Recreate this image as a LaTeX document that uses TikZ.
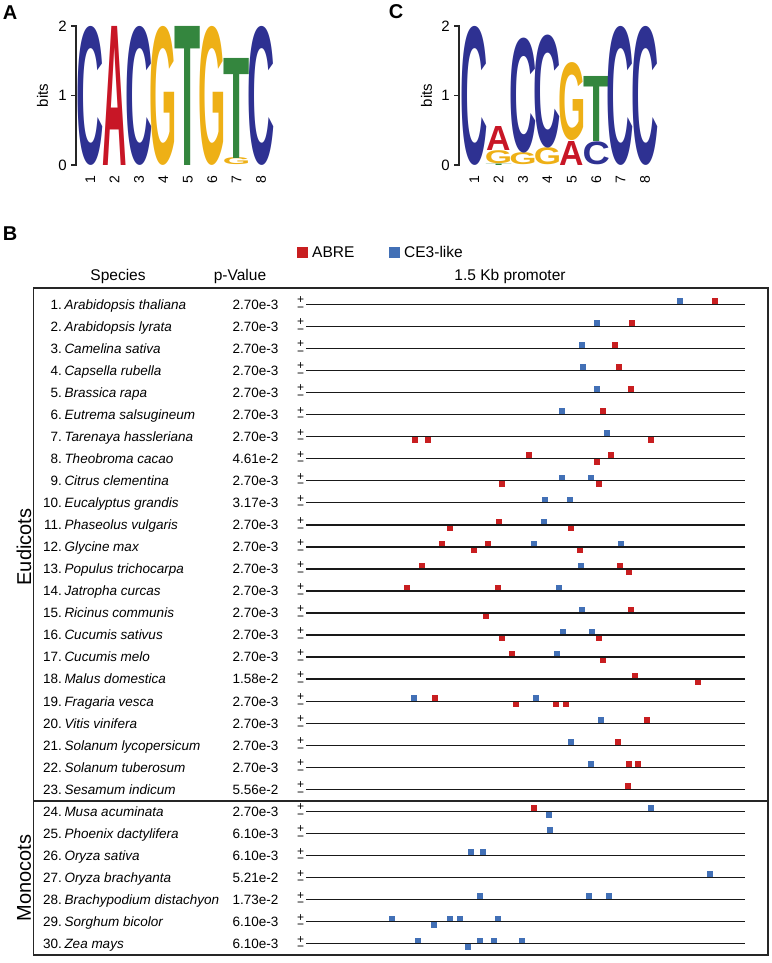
\documentclass[tikz,border=0pt]{standalone}
\usepackage{fontspec}
\setmainfont{Liberation Sans}
\usepackage{graphicx}
\begin{document}
\begin{tikzpicture}[x=1pt,y=-1pt,
  letter/.style={anchor=south, inner sep=0pt, outer sep=0pt, font=\bfseries},
  colnum/.style={rotate=90, anchor=east, inner sep=0pt, font=\fontsize{14}{16}\selectfont},
  tick/.style={anchor=east, inner sep=0pt, font=\fontsize{15}{17}\selectfont},
  axis/.style={line width=1.2pt, black!85},
  panel/.style={inner sep=0pt, font=\fontsize{20}{22}\selectfont\bfseries},
  head/.style={anchor=base, inner sep=0pt, font=\fontsize{15.5}{18}\selectfont},
  spc/.style={anchor=base west, inner sep=0pt, yshift=-4.8pt, font=\fontsize{13.5}{16}\selectfont},
  pval/.style={anchor=base west, inner sep=0pt, yshift=-4.8pt, font=\fontsize{13.5}{16}\selectfont},
  sgn/.style={inner sep=0pt, font=\fontsize{12}{12}\selectfont},
  dna/.style={line width=1.4pt, black!90},
  site/.style={minimum size=5.5pt, inner sep=0pt, outer sep=0pt},
  fwd/.style={site, anchor=south, yshift=0.7pt},
  rev/.style={site, anchor=north, yshift=-0.7pt},
  key/.style={minimum size=11pt, inner sep=0pt}
]
\definecolor{Lc}{RGB}{46,49,146}
\definecolor{La}{RGB}{200,22,38}
\definecolor{Lg}{RGB}{238,176,22}
\definecolor{Lt}{RGB}{52,134,62}
\definecolor{Cabre}{RGB}{200,30,32}
\definecolor{Cce}{RGB}{66,112,182}
\def\rowy{282.25}
\def\dy{22.05}
\def\lx{306}
\def\rx{745}
\def\sx{40.7}
\def\px{232.5}
\def\nr#1{\makebox[21pt][r]{#1}\hspace{2.6pt}}
\useasboundingbox (0,0) rectangle (771,963);
%% PANEL A
\node[panel] (labA) at (10,13) {A};
\draw[axis] (71,26) -- (76,26) -- (76,165) -- (71,165);
\draw[axis] (71,95.5) -- (76,95.5);
\node[tick] (a2) at (67,26) {2};
\node[tick] (a1) at (67,95.5) {1};
\node[tick] (a0) at (67,165) {0};
\node[rotate=90, font=\fontsize{15}{17}\selectfont] (abits) at (42.5,95.5) {bits};
\node[letter,text=Lc] (A1)  at ( 90.2,165) {\resizebox*{27.3pt}{139pt}{C}};
\node[letter,text=La] (A2)  at (114.6,165) {\resizebox*{24.4pt}{139pt}{A}};
\node[letter,text=Lc] (A3)  at (139.0,165) {\resizebox*{27.3pt}{139pt}{C}};
\node[letter,text=Lg] (A4)  at (163.4,165) {\resizebox*{27.3pt}{139pt}{G}};
\node[letter,text=Lt] (A5)  at (187.8,165) {\resizebox*{26.2pt}{139pt}{T}};
\node[letter,text=Lg] (A6)  at (212.2,165) {\resizebox*{27.3pt}{139pt}{G}};
\node[letter,text=Lg] (A7g) at (236.6,165) {\resizebox*{27.3pt}{7pt}{G}};
\node[letter,text=Lt] (A7)  at (236.6,158) {\resizebox*{26.2pt}{100pt}{T}};
\node[letter,text=Lc] (A8)  at (261.0,165) {\resizebox*{27.3pt}{139pt}{C}};
\node[colnum] (na1) at ( 90.2,176) {1};
\node[colnum] (na2) at (114.6,176) {2};
\node[colnum] (na3) at (139.0,176) {3};
\node[colnum] (na4) at (163.4,176) {4};
\node[colnum] (na5) at (187.8,176) {5};
\node[colnum] (na6) at (212.2,176) {6};
\node[colnum] (na7) at (236.6,176) {7};
\node[colnum] (na8) at (261.0,176) {8};
%% PANEL C
\node[panel] (labC) at (396,12) {C};
\draw[axis] (454,26) -- (459,26) -- (459,165) -- (454,165);
\draw[axis] (454,95.5) -- (459,95.5);
\node[tick] (c2) at (450,26) {2};
\node[tick] (c1) at (450,95.5) {1};
\node[tick] (c0) at (450,165) {0};
\node[rotate=90, font=\fontsize{15}{17}\selectfont] (cbits) at (426.5,95.5) {bits};
\node[letter,text=Lc] (C1)  at (474.2,165)   {\resizebox*{27.3pt}{139pt}{C}};
\node[letter,text=Lt] (C2t) at (498.6,165)   {\resizebox*{26.2pt}{1.5pt}{T}};
\node[letter,text=Lg] (C2g) at (498.6,163.5) {\resizebox*{27.3pt}{13pt}{G}};
\node[letter,text=La] (C2)  at (498.6,150)   {\resizebox*{24.4pt}{24pt}{A}};
\node[letter,text=Lg] (C3g) at (523.0,165)   {\resizebox*{27.3pt}{12pt}{G}};
\node[letter,text=Lc] (C3)  at (523.0,153)   {\resizebox*{27.3pt}{115pt}{C}};
\node[letter,text=Lg] (C4g) at (547.4,165)   {\resizebox*{27.3pt}{17pt}{G}};
\node[letter,text=Lc] (C4)  at (547.4,148)   {\resizebox*{27.3pt}{113pt}{C}};
\node[letter,text=La] (C5a) at (571.8,165)   {\resizebox*{24.4pt}{24pt}{A}};
\node[letter,text=Lg] (C5)  at (571.8,141)   {\resizebox*{27.3pt}{78pt}{G}};
\node[letter,text=Lc] (C6c) at (596.2,165)   {\resizebox*{27.3pt}{23pt}{C}};
\node[letter,text=Lt] (C6)  at (596.2,142)   {\resizebox*{26.2pt}{65pt}{T}};
\node[letter,text=Lc] (C7)  at (620.6,165)   {\resizebox*{27.3pt}{139pt}{C}};
\node[letter,text=Lc] (C8)  at (645.0,165)   {\resizebox*{27.3pt}{139pt}{C}};
\node[colnum] (nc1) at (474.2,176) {1};
\node[colnum] (nc2) at (498.6,176) {2};
\node[colnum] (nc3) at (523.0,176) {3};
\node[colnum] (nc4) at (547.4,176) {4};
\node[colnum] (nc5) at (571.8,176) {5};
\node[colnum] (nc6) at (596.2,176) {6};
\node[colnum] (nc7) at (620.6,176) {7};
\node[colnum] (nc8) at (645.0,176) {8};
%% PANEL B: LEGEND AND HEADER
\node[panel] (labB) at (10,234) {B};
\node[key,fill=Cabre] (kABRE) at (302,252) {};
\node[anchor=west, inner sep=0pt, font=\fontsize{15.5}{18}\selectfont] (tABRE) at (312,252) {ABRE};
\node[key,fill=Cce] (kCE) at (394,252) {};
\node[anchor=west, inner sep=0pt, font=\fontsize{15.5}{18}\selectfont] (tCE) at (404,252) {CE3-like};
\node[head] (hS) at (118,280) {Species};
\node[head] (hP) at (240,280) {p-Value};
\node[head] (hK) at (510,280) {1.5 Kb promoter};
%% FRAME
\draw[line width=1.5pt, black!85] (33.3,288) rectangle (768,955);
\draw[line width=1.5pt, black!85] (33.3,801) -- (768,801);
\node[rotate=90, inner sep=0pt, font=\fontsize{20}{22}\selectfont] (gEu) at (24,547) {Eudicots};
\node[rotate=90, inner sep=0pt, font=\fontsize{20}{22}\selectfont] (gMo) at (24,878) {Monocots};
%% PROMOTER LINES
\foreach \n in {1,...,30}{
  \draw[dna] (\lx,\rowy+\n*\dy) -- (\rx,\rowy+\n*\dy);
  \node[sgn] (pl\n) at (300.5,\rowy+\n*\dy-4) {+};
  \node[sgn] (mi\n) at (300.5,\rowy+\n*\dy+5) {−};
}
%% SPECIES
\node[spc] (S1)  at (\sx,\rowy+1*\dy)  {\nr{1.}\textit{Arabidopsis thaliana}};
\node[spc] (S2)  at (\sx,\rowy+2*\dy)  {\nr{2.}\textit{Arabidopsis lyrata}};
\node[spc] (S3)  at (\sx,\rowy+3*\dy)  {\nr{3.}\textit{Camelina sativa}};
\node[spc] (S4)  at (\sx,\rowy+4*\dy)  {\nr{4.}\textit{Capsella rubella}};
\node[spc] (S5)  at (\sx,\rowy+5*\dy)  {\nr{5.}\textit{Brassica rapa}};
\node[spc] (S6)  at (\sx,\rowy+6*\dy)  {\nr{6.}\textit{Eutrema salsugineum}};
\node[spc] (S7)  at (\sx,\rowy+7*\dy)  {\nr{7.}\textit{Tarenaya hassleriana}};
\node[spc] (S8)  at (\sx,\rowy+8*\dy)  {\nr{8.}\textit{Theobroma cacao}};
\node[spc] (S9)  at (\sx,\rowy+9*\dy)  {\nr{9.}\textit{Citrus clementina}};
\node[spc] (S10) at (\sx,\rowy+10*\dy) {\nr{10.}\textit{Eucalyptus grandis}};
\node[spc] (S11) at (\sx,\rowy+11*\dy) {\nr{11.}\textit{Phaseolus vulgaris}};
\node[spc] (S12) at (\sx,\rowy+12*\dy) {\nr{12.}\textit{Glycine max}};
\node[spc] (S13) at (\sx,\rowy+13*\dy) {\nr{13.}\textit{Populus trichocarpa}};
\node[spc] (S14) at (\sx,\rowy+14*\dy) {\nr{14.}\textit{Jatropha curcas}};
\node[spc] (S15) at (\sx,\rowy+15*\dy) {\nr{15.}\textit{Ricinus communis}};
\node[spc] (S16) at (\sx,\rowy+16*\dy) {\nr{16.}\textit{Cucumis sativus}};
\node[spc] (S17) at (\sx,\rowy+17*\dy) {\nr{17.}\textit{Cucumis melo}};
\node[spc] (S18) at (\sx,\rowy+18*\dy) {\nr{18.}\textit{Malus domestica}};
\node[spc] (S19) at (\sx,\rowy+19*\dy) {\nr{19.}\textit{Fragaria vesca}};
\node[spc] (S20) at (\sx,\rowy+20*\dy) {\nr{20.}\textit{Vitis vinifera}};
\node[spc] (S21) at (\sx,\rowy+21*\dy) {\nr{21.}\textit{Solanum lycopersicum}};
\node[spc] (S22) at (\sx,\rowy+22*\dy) {\nr{22.}\textit{Solanum tuberosum}};
\node[spc] (S23) at (\sx,\rowy+23*\dy) {\nr{23.}\textit{Sesamum indicum}};
\node[spc] (S24) at (\sx,\rowy+24*\dy) {\nr{24.}\textit{Musa acuminata}};
\node[spc] (S25) at (\sx,\rowy+25*\dy) {\nr{25.}\textit{Phoenix dactylifera}};
\node[spc] (S26) at (\sx,\rowy+26*\dy) {\nr{26.}\textit{Oryza sativa}};
\node[spc] (S27) at (\sx,\rowy+27*\dy) {\nr{27.}\textit{Oryza brachyanta}};
\node[spc] (S28) at (\sx,\rowy+28*\dy) {\nr{28.}\textit{Brachypodium distachyon}};
\node[spc] (S29) at (\sx,\rowy+29*\dy) {\nr{29.}\textit{Sorghum bicolor}};
\node[spc] (S30) at (\sx,\rowy+30*\dy) {\nr{30.}\textit{Zea mays}};
%% P-VALUES
\node[pval] (P1)  at (\px,\rowy+1*\dy)  {2.70e-3};
\node[pval] (P2)  at (\px,\rowy+2*\dy)  {2.70e-3};
\node[pval] (P3)  at (\px,\rowy+3*\dy)  {2.70e-3};
\node[pval] (P4)  at (\px,\rowy+4*\dy)  {2.70e-3};
\node[pval] (P5)  at (\px,\rowy+5*\dy)  {2.70e-3};
\node[pval] (P6)  at (\px,\rowy+6*\dy)  {2.70e-3};
\node[pval] (P7)  at (\px,\rowy+7*\dy)  {2.70e-3};
\node[pval] (P8)  at (\px,\rowy+8*\dy)  {4.61e-2};
\node[pval] (P9)  at (\px,\rowy+9*\dy)  {2.70e-3};
\node[pval] (P10) at (\px,\rowy+10*\dy) {3.17e-3};
\node[pval] (P11) at (\px,\rowy+11*\dy) {2.70e-3};
\node[pval] (P12) at (\px,\rowy+12*\dy) {2.70e-3};
\node[pval] (P13) at (\px,\rowy+13*\dy) {2.70e-3};
\node[pval] (P14) at (\px,\rowy+14*\dy) {2.70e-3};
\node[pval] (P15) at (\px,\rowy+15*\dy) {2.70e-3};
\node[pval] (P16) at (\px,\rowy+16*\dy) {2.70e-3};
\node[pval] (P17) at (\px,\rowy+17*\dy) {2.70e-3};
\node[pval] (P18) at (\px,\rowy+18*\dy) {1.58e-2};
\node[pval] (P19) at (\px,\rowy+19*\dy) {2.70e-3};
\node[pval] (P20) at (\px,\rowy+20*\dy) {2.70e-3};
\node[pval] (P21) at (\px,\rowy+21*\dy) {2.70e-3};
\node[pval] (P22) at (\px,\rowy+22*\dy) {2.70e-3};
\node[pval] (P23) at (\px,\rowy+23*\dy) {5.56e-2};
\node[pval] (P24) at (\px,\rowy+24*\dy) {2.70e-3};
\node[pval] (P25) at (\px,\rowy+25*\dy) {6.10e-3};
\node[pval] (P26) at (\px,\rowy+26*\dy) {6.10e-3};
\node[pval] (P27) at (\px,\rowy+27*\dy) {5.21e-2};
\node[pval] (P28) at (\px,\rowy+28*\dy) {1.73e-2};
\node[pval] (P29) at (\px,\rowy+29*\dy) {6.10e-3};
\node[pval] (P30) at (\px,\rowy+30*\dy) {6.10e-3};
%% SITES (r = ABRE, b = CE3-like)
\node[fwd,fill=Cce]   (b1-1)  at (680,\rowy+1*\dy) {};
\node[fwd,fill=Cabre] (r1-1)  at (715,\rowy+1*\dy) {};
\node[fwd,fill=Cce]   (b2-1)  at (597,\rowy+2*\dy) {};
\node[fwd,fill=Cabre] (r2-1)  at (632,\rowy+2*\dy) {};
\node[fwd,fill=Cce]   (b3-1)  at (582,\rowy+3*\dy) {};
\node[fwd,fill=Cabre] (r3-1)  at (615,\rowy+3*\dy) {};
\node[fwd,fill=Cce]   (b4-1)  at (583,\rowy+4*\dy) {};
\node[fwd,fill=Cabre] (r4-1)  at (619,\rowy+4*\dy) {};
\node[fwd,fill=Cce]   (b5-1)  at (597,\rowy+5*\dy) {};
\node[fwd,fill=Cabre] (r5-1)  at (631,\rowy+5*\dy) {};
\node[fwd,fill=Cce]   (b6-1)  at (562,\rowy+6*\dy) {};
\node[fwd,fill=Cabre] (r6-1)  at (603,\rowy+6*\dy) {};
\node[fwd,fill=Cce]   (b7-1)  at (607,\rowy+7*\dy) {};
\node[rev,fill=Cabre] (r7-1)  at (415,\rowy+7*\dy) {};
\node[rev,fill=Cabre] (r7-2)  at (428,\rowy+7*\dy) {};
\node[rev,fill=Cabre] (r7-3)  at (651,\rowy+7*\dy) {};
\node[fwd,fill=Cabre] (r8-1)  at (529,\rowy+8*\dy) {};
\node[rev,fill=Cabre] (r8-2)  at (597,\rowy+8*\dy) {};
\node[fwd,fill=Cabre] (r8-3)  at (611,\rowy+8*\dy) {};
\node[rev,fill=Cabre] (r9-1)  at (502,\rowy+9*\dy) {};
\node[fwd,fill=Cce]   (b9-1)  at (562,\rowy+9*\dy) {};
\node[fwd,fill=Cce]   (b9-2)  at (591,\rowy+9*\dy) {};
\node[rev,fill=Cabre] (r9-2)  at (599,\rowy+9*\dy) {};
\node[fwd,fill=Cce]   (b10-1) at (545,\rowy+10*\dy) {};
\node[fwd,fill=Cce]   (b10-2) at (570,\rowy+10*\dy) {};
\node[rev,fill=Cabre] (r11-1) at (450,\rowy+11*\dy) {};
\node[fwd,fill=Cabre] (r11-2) at (499,\rowy+11*\dy) {};
\node[fwd,fill=Cce]   (b11-1) at (544,\rowy+11*\dy) {};
\node[rev,fill=Cabre] (r11-3) at (571,\rowy+11*\dy) {};
\node[fwd,fill=Cabre] (r12-1) at (442,\rowy+12*\dy) {};
\node[rev,fill=Cabre] (r12-2) at (474,\rowy+12*\dy) {};
\node[fwd,fill=Cabre] (r12-3) at (488,\rowy+12*\dy) {};
\node[fwd,fill=Cce]   (b12-1) at (534,\rowy+12*\dy) {};
\node[rev,fill=Cabre] (r12-4) at (580,\rowy+12*\dy) {};
\node[fwd,fill=Cce]   (b12-2) at (621,\rowy+12*\dy) {};
\node[fwd,fill=Cabre] (r13-1) at (422,\rowy+13*\dy) {};
\node[fwd,fill=Cce]   (b13-1) at (581,\rowy+13*\dy) {};
\node[fwd,fill=Cabre] (r13-2) at (620,\rowy+13*\dy) {};
\node[rev,fill=Cabre] (r13-3) at (629,\rowy+13*\dy) {};
\node[fwd,fill=Cabre] (r14-1) at (407,\rowy+14*\dy) {};
\node[fwd,fill=Cabre] (r14-2) at (498,\rowy+14*\dy) {};
\node[fwd,fill=Cce]   (b14-1) at (559,\rowy+14*\dy) {};
\node[rev,fill=Cabre] (r15-1) at (486,\rowy+15*\dy) {};
\node[fwd,fill=Cce]   (b15-1) at (582,\rowy+15*\dy) {};
\node[fwd,fill=Cabre] (r15-2) at (631,\rowy+15*\dy) {};
\node[rev,fill=Cabre] (r16-1) at (502,\rowy+16*\dy) {};
\node[fwd,fill=Cce]   (b16-1) at (563,\rowy+16*\dy) {};
\node[fwd,fill=Cce]   (b16-2) at (592,\rowy+16*\dy) {};
\node[rev,fill=Cabre] (r16-2) at (599,\rowy+16*\dy) {};
\node[fwd,fill=Cabre] (r17-1) at (512,\rowy+17*\dy) {};
\node[fwd,fill=Cce]   (b17-1) at (557,\rowy+17*\dy) {};
\node[rev,fill=Cabre] (r17-2) at (603,\rowy+17*\dy) {};
\node[fwd,fill=Cabre] (r18-1) at (635,\rowy+18*\dy) {};
\node[rev,fill=Cabre] (r18-2) at (698,\rowy+18*\dy) {};
\node[fwd,fill=Cce]   (b19-1) at (414,\rowy+19*\dy) {};
\node[fwd,fill=Cabre] (r19-1) at (435,\rowy+19*\dy) {};
\node[rev,fill=Cabre] (r19-2) at (516,\rowy+19*\dy) {};
\node[fwd,fill=Cce]   (b19-2) at (536,\rowy+19*\dy) {};
\node[rev,fill=Cabre] (r19-3) at (556,\rowy+19*\dy) {};
\node[rev,fill=Cabre] (r19-4) at (566,\rowy+19*\dy) {};
\node[fwd,fill=Cce]   (b20-1) at (601,\rowy+20*\dy) {};
\node[fwd,fill=Cabre] (r20-1) at (647,\rowy+20*\dy) {};
\node[fwd,fill=Cce]   (b21-1) at (571,\rowy+21*\dy) {};
\node[fwd,fill=Cabre] (r21-1) at (618,\rowy+21*\dy) {};
\node[fwd,fill=Cce]   (b22-1) at (591,\rowy+22*\dy) {};
\node[fwd,fill=Cabre] (r22-1) at (629,\rowy+22*\dy) {};
\node[fwd,fill=Cabre] (r22-2) at (638,\rowy+22*\dy) {};
\node[fwd,fill=Cabre] (r23-1) at (628,\rowy+23*\dy) {};
\node[fwd,fill=Cabre] (r24-1) at (534,\rowy+24*\dy) {};
\node[rev,fill=Cce]   (b24-1) at (549,\rowy+24*\dy) {};
\node[fwd,fill=Cce]   (b24-2) at (651,\rowy+24*\dy) {};
\node[fwd,fill=Cce]   (b25-1) at (550,\rowy+25*\dy) {};
\node[fwd,fill=Cce]   (b26-1) at (471,\rowy+26*\dy) {};
\node[fwd,fill=Cce]   (b26-2) at (483,\rowy+26*\dy) {};
\node[fwd,fill=Cce]   (b27-1) at (710,\rowy+27*\dy) {};
\node[fwd,fill=Cce]   (b28-1) at (480,\rowy+28*\dy) {};
\node[fwd,fill=Cce]   (b28-2) at (589,\rowy+28*\dy) {};
\node[fwd,fill=Cce]   (b28-3) at (609,\rowy+28*\dy) {};
\node[fwd,fill=Cce]   (b29-1) at (392,\rowy+29*\dy) {};
\node[rev,fill=Cce]   (b29-2) at (434,\rowy+29*\dy) {};
\node[fwd,fill=Cce]   (b29-3) at (450,\rowy+29*\dy) {};
\node[fwd,fill=Cce]   (b29-4) at (460,\rowy+29*\dy) {};
\node[fwd,fill=Cce]   (b29-5) at (498,\rowy+29*\dy) {};
\node[fwd,fill=Cce]   (b30-1) at (418,\rowy+30*\dy) {};
\node[rev,fill=Cce]   (b30-2) at (468,\rowy+30*\dy) {};
\node[fwd,fill=Cce]   (b30-3) at (480,\rowy+30*\dy) {};
\node[fwd,fill=Cce]   (b30-4) at (494,\rowy+30*\dy) {};
\node[fwd,fill=Cce]   (b30-5) at (522,\rowy+30*\dy) {};
\end{tikzpicture}
\end{document}
